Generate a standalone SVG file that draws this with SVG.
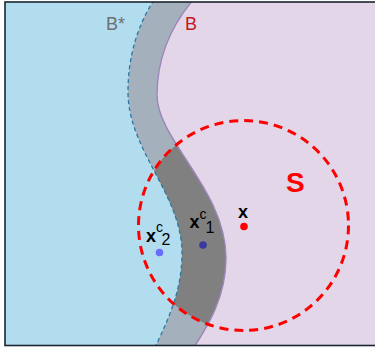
<svg xmlns="http://www.w3.org/2000/svg" width="375" height="350" viewBox="0 0 375 350">
  <defs>
    <style>
      .lbl { font-family: "Liberation Sans", Arial, sans-serif; }
      .bold { font-weight: bold; }
    </style>
    <clipPath id="frameClip">
      <rect x="5" y="2" width="375" height="343.5"/>
    </clipPath>
    <clipPath id="circClip">
      <circle cx="243.5" cy="225.5" r="105"/>
    </clipPath>
  </defs>
  <rect x="0" y="0" width="375" height="350" fill="#ffffff"/>
  <g id="regions" clip-path="url(#frameClip)">
    <rect x="0" y="0" width="375" height="350" fill="#e3d6e9"/>
    <path id="leftOfB" d="M 0,0 L 193,0 C 172,25 157,55 157,95 C 157,140 226,190 226,258 C 226,300 205,330 191,352 L 0,352 Z" fill="#a5b0bd"/>
    <path d="M 0,0 L 193,0 C 172,25 157,55 157,95 C 157,140 226,190 226,258 C 226,300 205,330 191,352 L 0,352 Z" fill="#808080" clip-path="url(#circClip)"/>
    <path id="leftOfBstar" d="M 0,0 L 154,0 C 138,25 128,55 128,92 C 128,150 182,195 182,253 C 182,295 165,325 153,352 L 0,352 Z" fill="#b2ddef"/>
    <path id="curveB" d="M 193,0 C 172,25 157,55 157,95 C 157,140 226,190 226,258 C 226,300 205,330 191,352" fill="none" stroke="#9d85b8" stroke-width="1.4"/>
    <path id="curveBstar" d="M 154,0 C 138,25 128,55 128,92 C 128,150 182,195 182,253 C 182,295 165,325 153,352" fill="none" stroke="#2b78a0" stroke-width="1.3" stroke-dasharray="4 3"/>
  </g>
  <g id="S">
    <circle cx="243.5" cy="225.5" r="105" fill="none" stroke="#ff0000" stroke-width="3" stroke-dasharray="9 6"/>
    <text class="lbl bold" x="286" y="192" font-size="28" fill="#ff0000">S</text>
  </g>
  <rect id="frame" x="5" y="2" width="380" height="343.5" fill="none" stroke="#1a2630" stroke-width="1.6"/>
  <g id="labelB">
    <text class="lbl" x="185" y="30" font-size="18" fill="#c01a24">B</text>
  </g>
  <g id="labelBstar">
    <text class="lbl" x="106" y="30" font-size="18" fill="#707070">B*</text>
  </g>
  <g id="x">
    <text class="lbl bold" x="238" y="218" font-size="18" fill="#000000">x</text>
    <circle cx="244" cy="226.5" r="3.8" fill="#ff0000"/>
  </g>
  <g id="xc1">
    <text class="lbl" x="189.5" y="228" font-size="18" fill="#000000"><tspan class="bold">x</tspan><tspan font-size="14" dy="-9">c</tspan><tspan font-size="16" dx="-1" dy="14">1</tspan></text>
    <circle cx="203" cy="245" r="3.8" fill="#3a3a9e"/>
  </g>
  <g id="xc2">
    <text class="lbl" x="146" y="242" font-size="18" fill="#000000"><tspan class="bold">x</tspan><tspan font-size="14" dy="-10">c</tspan><tspan font-size="16" dx="-1.5" dy="13">2</tspan></text>
    <circle cx="159.5" cy="252.5" r="3.8" fill="#6b6bff"/>
  </g>
</svg>
